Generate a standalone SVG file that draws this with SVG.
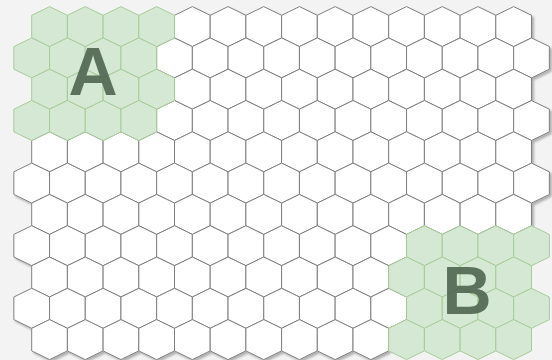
<svg xmlns="http://www.w3.org/2000/svg" xmlns:xlink="http://www.w3.org/1999/xlink" width="552" height="360" viewBox="0 0 552 360">
<style>
.w{fill:#ffffff;stroke:#7f7f7f;stroke-width:1}
.g{fill:#d5e8d4;stroke:#a6cc98;stroke-width:1}
.lbl{font-family:"Liberation Sans",Arial,sans-serif;font-weight:bold;font-size:68px;fill:#4f654f;fill-opacity:0.9;text-anchor:middle}
</style>
<defs>
<path id="hex" d="M17.85,0 L35.7,8.7 L35.7,31.3 L17.85,40 L0,31.3 L0,8.7 Z"/>
<filter id="sh" x="-2%" y="-2%" width="104%" height="104%">
<feDropShadow dx="2" dy="2" stdDeviation="1" flood-color="#000000" flood-opacity="0.28"/>
</filter>
</defs>
<rect x="0" y="0" width="552" height="360" fill="#f3f3f3"/>
<g id="grid" filter="url(#sh)">
<g id="row0" transform="translate(0,6.6)">
<use href="#hex" class="w" x="174.5"/><use href="#hex" class="w" x="210.2"/><use href="#hex" class="w" x="245.9"/><use href="#hex" class="w" x="281.6"/><use href="#hex" class="w" x="317.3"/><use href="#hex" class="w" x="353"/><use href="#hex" class="w" x="388.7"/><use href="#hex" class="w" x="424.4"/><use href="#hex" class="w" x="460.1"/><use href="#hex" class="w" x="495.8"/>
</g>
<g id="row1" transform="translate(0,37.9)">
<use href="#hex" class="w" x="156.65"/><use href="#hex" class="w" x="192.35"/><use href="#hex" class="w" x="228.05"/><use href="#hex" class="w" x="263.75"/><use href="#hex" class="w" x="299.45"/><use href="#hex" class="w" x="335.15"/><use href="#hex" class="w" x="370.85"/><use href="#hex" class="w" x="406.55"/><use href="#hex" class="w" x="442.25"/><use href="#hex" class="w" x="477.95"/><use href="#hex" class="w" x="513.65"/>
</g>
<g id="row2" transform="translate(0,69.2)">
<use href="#hex" class="w" x="174.5"/><use href="#hex" class="w" x="210.2"/><use href="#hex" class="w" x="245.9"/><use href="#hex" class="w" x="281.6"/><use href="#hex" class="w" x="317.3"/><use href="#hex" class="w" x="353"/><use href="#hex" class="w" x="388.7"/><use href="#hex" class="w" x="424.4"/><use href="#hex" class="w" x="460.1"/><use href="#hex" class="w" x="495.8"/>
</g>
<g id="row3" transform="translate(0,100.5)">
<use href="#hex" class="w" x="156.65"/><use href="#hex" class="w" x="192.35"/><use href="#hex" class="w" x="228.05"/><use href="#hex" class="w" x="263.75"/><use href="#hex" class="w" x="299.45"/><use href="#hex" class="w" x="335.15"/><use href="#hex" class="w" x="370.85"/><use href="#hex" class="w" x="406.55"/><use href="#hex" class="w" x="442.25"/><use href="#hex" class="w" x="477.95"/><use href="#hex" class="w" x="513.65"/>
</g>
<g id="row4" transform="translate(0,131.8)">
<use href="#hex" class="w" x="31.7"/><use href="#hex" class="w" x="67.4"/><use href="#hex" class="w" x="103.1"/><use href="#hex" class="w" x="138.8"/><use href="#hex" class="w" x="174.5"/><use href="#hex" class="w" x="210.2"/><use href="#hex" class="w" x="245.9"/><use href="#hex" class="w" x="281.6"/><use href="#hex" class="w" x="317.3"/><use href="#hex" class="w" x="353"/><use href="#hex" class="w" x="388.7"/><use href="#hex" class="w" x="424.4"/><use href="#hex" class="w" x="460.1"/><use href="#hex" class="w" x="495.8"/>
</g>
<g id="row5" transform="translate(0,163.1)">
<use href="#hex" class="w" x="13.85"/><use href="#hex" class="w" x="49.55"/><use href="#hex" class="w" x="85.25"/><use href="#hex" class="w" x="120.95"/><use href="#hex" class="w" x="156.65"/><use href="#hex" class="w" x="192.35"/><use href="#hex" class="w" x="228.05"/><use href="#hex" class="w" x="263.75"/><use href="#hex" class="w" x="299.45"/><use href="#hex" class="w" x="335.15"/><use href="#hex" class="w" x="370.85"/><use href="#hex" class="w" x="406.55"/><use href="#hex" class="w" x="442.25"/><use href="#hex" class="w" x="477.95"/><use href="#hex" class="w" x="513.65"/>
</g>
<g id="row6" transform="translate(0,194.4)">
<use href="#hex" class="w" x="31.7"/><use href="#hex" class="w" x="67.4"/><use href="#hex" class="w" x="103.1"/><use href="#hex" class="w" x="138.8"/><use href="#hex" class="w" x="174.5"/><use href="#hex" class="w" x="210.2"/><use href="#hex" class="w" x="245.9"/><use href="#hex" class="w" x="281.6"/><use href="#hex" class="w" x="317.3"/><use href="#hex" class="w" x="353"/><use href="#hex" class="w" x="388.7"/><use href="#hex" class="w" x="424.4"/><use href="#hex" class="w" x="460.1"/><use href="#hex" class="w" x="495.8"/>
</g>
<g id="row7" transform="translate(0,225.7)">
<use href="#hex" class="w" x="13.85"/><use href="#hex" class="w" x="49.55"/><use href="#hex" class="w" x="85.25"/><use href="#hex" class="w" x="120.95"/><use href="#hex" class="w" x="156.65"/><use href="#hex" class="w" x="192.35"/><use href="#hex" class="w" x="228.05"/><use href="#hex" class="w" x="263.75"/><use href="#hex" class="w" x="299.45"/><use href="#hex" class="w" x="335.15"/><use href="#hex" class="w" x="370.85"/>
</g>
<g id="row8" transform="translate(0,257)">
<use href="#hex" class="w" x="31.7"/><use href="#hex" class="w" x="67.4"/><use href="#hex" class="w" x="103.1"/><use href="#hex" class="w" x="138.8"/><use href="#hex" class="w" x="174.5"/><use href="#hex" class="w" x="210.2"/><use href="#hex" class="w" x="245.9"/><use href="#hex" class="w" x="281.6"/><use href="#hex" class="w" x="317.3"/><use href="#hex" class="w" x="353"/>
</g>
<g id="row9" transform="translate(0,288.3)">
<use href="#hex" class="w" x="13.85"/><use href="#hex" class="w" x="49.55"/><use href="#hex" class="w" x="85.25"/><use href="#hex" class="w" x="120.95"/><use href="#hex" class="w" x="156.65"/><use href="#hex" class="w" x="192.35"/><use href="#hex" class="w" x="228.05"/><use href="#hex" class="w" x="263.75"/><use href="#hex" class="w" x="299.45"/><use href="#hex" class="w" x="335.15"/><use href="#hex" class="w" x="370.85"/>
</g>
<g id="row10" transform="translate(0,319.6)">
<use href="#hex" class="w" x="31.7"/><use href="#hex" class="w" x="67.4"/><use href="#hex" class="w" x="103.1"/><use href="#hex" class="w" x="138.8"/><use href="#hex" class="w" x="174.5"/><use href="#hex" class="w" x="210.2"/><use href="#hex" class="w" x="245.9"/><use href="#hex" class="w" x="281.6"/><use href="#hex" class="w" x="317.3"/><use href="#hex" class="w" x="353"/>
</g>
</g>
<g id="regionA">
<g transform="translate(0,6.6)"><use href="#hex" class="g" x="31.7"/><use href="#hex" class="g" x="67.4"/><use href="#hex" class="g" x="103.1"/><use href="#hex" class="g" x="138.8"/></g>
<g transform="translate(0,37.9)"><use href="#hex" class="g" x="13.85"/><use href="#hex" class="g" x="49.55"/><use href="#hex" class="g" x="85.25"/><use href="#hex" class="g" x="120.95"/></g>
<g transform="translate(0,69.2)"><use href="#hex" class="g" x="31.7"/><use href="#hex" class="g" x="67.4"/><use href="#hex" class="g" x="103.1"/><use href="#hex" class="g" x="138.8"/></g>
<g transform="translate(0,100.5)"><use href="#hex" class="g" x="13.85"/><use href="#hex" class="g" x="49.55"/><use href="#hex" class="g" x="85.25"/><use href="#hex" class="g" x="120.95"/></g>
<text class="lbl" x="93" y="95">A</text>
</g>
<g id="regionB">
<g transform="translate(0,225.7)"><use href="#hex" class="g" x="406.55"/><use href="#hex" class="g" x="442.25"/><use href="#hex" class="g" x="477.95"/><use href="#hex" class="g" x="513.65"/></g>
<g transform="translate(0,257)"><use href="#hex" class="g" x="388.7"/><use href="#hex" class="g" x="424.4"/><use href="#hex" class="g" x="460.1"/><use href="#hex" class="g" x="495.8"/></g>
<g transform="translate(0,288.3)"><use href="#hex" class="g" x="406.55"/><use href="#hex" class="g" x="442.25"/><use href="#hex" class="g" x="477.95"/><use href="#hex" class="g" x="513.65"/></g>
<g transform="translate(0,319.6)"><use href="#hex" class="g" x="388.7"/><use href="#hex" class="g" x="424.4"/><use href="#hex" class="g" x="460.1"/><use href="#hex" class="g" x="495.8"/></g>
<text class="lbl" x="467" y="314">B</text>
</g>
</svg>
